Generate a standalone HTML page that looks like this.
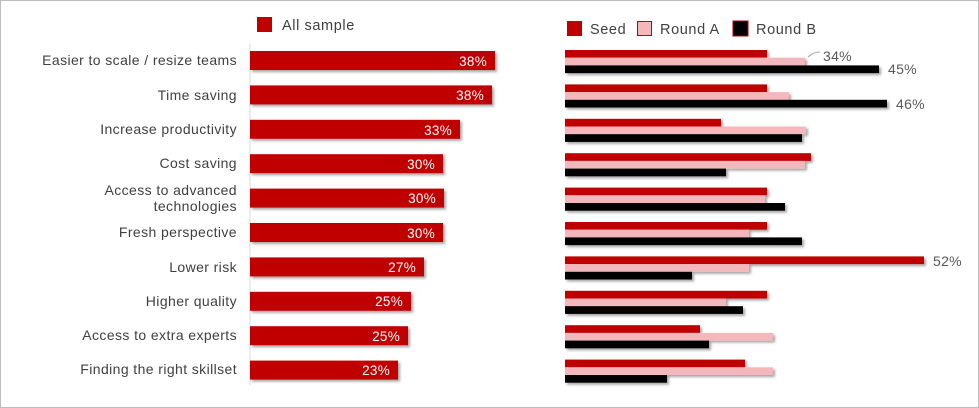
<!DOCTYPE html>
<html><head><meta charset="utf-8"><style>
html,body{margin:0;padding:0;background:#fff;}
svg{display:block;}
text{font-family:"Liberation Sans",sans-serif;}
</style></head><body>
<svg width="979" height="408" viewBox="0 0 979 408" xmlns="http://www.w3.org/2000/svg">
<defs><filter id="sh" x="-5%" y="-30%" width="110%" height="180%"><feDropShadow dx="2" dy="2" stdDeviation="1.2" flood-color="#000" flood-opacity="0.35"/></filter></defs>
<rect x="0.5" y="0.5" width="978" height="407" fill="#fff" stroke="#bdbdbd"/>
<g font-size="14.5" fill="#404040" letter-spacing="0.6">
<rect x="257" y="17" width="15" height="15" fill="#c00000"/>
<text x="282" y="30">All sample</text>
<rect x="567" y="21" width="15" height="15" fill="#c00000"/>
<text x="590" y="34">Seed</text>
<rect x="637.5" y="21.5" width="14" height="14" fill="#f4b8bc" stroke="#c00000"/>
<text x="660" y="34">Round A</text>
<rect x="733" y="21" width="15" height="15" fill="#000" stroke="#c00000"/>
<text x="756" y="34">Round B</text>
</g>
<line x1="250" y1="44" x2="250" y2="385" stroke="#d9d9d9"/>
<g font-size="14" fill="#404040" text-anchor="end" letter-spacing="0.4">
<text x="237" y="65">Easier to scale / resize teams</text>
<text x="237" y="100">Time saving</text>
<text x="237" y="134">Increase productivity</text>
<text x="237" y="168">Cost saving</text>
<text x="237" y="195">Access to advanced</text>
<text x="237" y="211">technologies</text>
<text x="237" y="237">Fresh perspective</text>
<text x="237" y="272">Lower risk</text>
<text x="237" y="306">Higher quality</text>
<text x="237" y="340">Access to extra experts</text>
<text x="237" y="374">Finding the right skillset</text>
</g>
<g fill="#c00000" filter="url(#sh)">
<rect x="250" y="51" width="245" height="19"/>
<rect x="250" y="85.4" width="242" height="19"/>
<rect x="250" y="119.8" width="210" height="19"/>
<rect x="250" y="154.2" width="193" height="19"/>
<rect x="250" y="188.6" width="194" height="19"/>
<rect x="250" y="223" width="193" height="19"/>
<rect x="250" y="257.4" width="174" height="19"/>
<rect x="250" y="291.8" width="161" height="19"/>
<rect x="250" y="326.2" width="158" height="19"/>
<rect x="250" y="360.6" width="148" height="19"/>
</g>
<g font-size="13.5" fill="#fff" text-anchor="end" letter-spacing="0.3">
<text x="487" y="66">38%</text>
<text x="484" y="100">38%</text>
<text x="452" y="135">33%</text>
<text x="435" y="169">30%</text>
<text x="436" y="203">30%</text>
<text x="435" y="238">30%</text>
<text x="416" y="272">27%</text>
<text x="403" y="306">25%</text>
<text x="400" y="341">25%</text>
<text x="390" y="375">23%</text>
</g>
<g filter="url(#sh)">
<g transform="translate(0,0)"><rect x="565" y="50" width="202" height="7.7" fill="#c00000"/><rect x="565" y="57.7" width="240" height="7.7" fill="#f4b8bc"/><rect x="565" y="65.4" width="314" height="7.7" fill="#000"/></g>
<g transform="translate(0,34.4)"><rect x="565" y="50" width="202" height="7.7" fill="#c00000"/><rect x="565" y="57.7" width="224" height="7.7" fill="#f4b8bc"/><rect x="565" y="65.4" width="322" height="7.7" fill="#000"/></g>
<g transform="translate(0,68.8)"><rect x="565" y="50" width="156" height="7.7" fill="#c00000"/><rect x="565" y="57.7" width="241" height="7.7" fill="#f4b8bc"/><rect x="565" y="65.4" width="237" height="7.7" fill="#000"/></g>
<g transform="translate(0,103.2)"><rect x="565" y="50" width="246" height="7.7" fill="#c00000"/><rect x="565" y="57.7" width="240" height="7.7" fill="#f4b8bc"/><rect x="565" y="65.4" width="161" height="7.7" fill="#000"/></g>
<g transform="translate(0,137.6)"><rect x="565" y="50" width="202" height="7.7" fill="#c00000"/><rect x="565" y="57.7" width="200" height="7.7" fill="#f4b8bc"/><rect x="565" y="65.4" width="220" height="7.7" fill="#000"/></g>
<g transform="translate(0,172)"><rect x="565" y="50" width="202" height="7.7" fill="#c00000"/><rect x="565" y="57.7" width="184" height="7.7" fill="#f4b8bc"/><rect x="565" y="65.4" width="237" height="7.7" fill="#000"/></g>
<g transform="translate(0,206.4)"><rect x="565" y="50" width="359" height="7.7" fill="#c00000"/><rect x="565" y="57.7" width="184" height="7.7" fill="#f4b8bc"/><rect x="565" y="65.4" width="127" height="7.7" fill="#000"/></g>
<g transform="translate(0,240.8)"><rect x="565" y="50" width="202" height="7.7" fill="#c00000"/><rect x="565" y="57.7" width="161" height="7.7" fill="#f4b8bc"/><rect x="565" y="65.4" width="178" height="7.7" fill="#000"/></g>
<g transform="translate(0,275.2)"><rect x="565" y="50" width="135" height="7.7" fill="#c00000"/><rect x="565" y="57.7" width="208" height="7.7" fill="#f4b8bc"/><rect x="565" y="65.4" width="144" height="7.7" fill="#000"/></g>
<g transform="translate(0,309.6)"><rect x="565" y="50" width="180" height="7.7" fill="#c00000"/><rect x="565" y="57.7" width="208" height="7.7" fill="#f4b8bc"/><rect x="565" y="65.4" width="102" height="7.7" fill="#000"/></g>
</g>
<path d="M808 57 Q813 52 820 52" stroke="#a6a6a6" fill="none"/>
<g font-size="14" fill="#595959" letter-spacing="0.3">
<text x="823" y="61">34%</text>
<text x="888" y="74">45%</text>
<text x="896" y="109">46%</text>
<text x="933" y="266">52%</text>
</g>
</svg>
</body></html>
